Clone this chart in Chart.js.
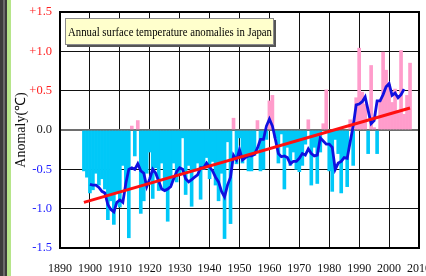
<!DOCTYPE html>
<html><head><meta charset="utf-8">
<script src="https://cdn.jsdelivr.net/npm/chart.js@4.4.0/dist/chart.umd.min.js"></script>
<style>html,body{margin:0;padding:0;background:#fff;overflow:hidden}</style>
</head><body><canvas id="c" width="426" height="276"></canvas>
<script>
const barYears = [1898,1899,1900,1901,1902,1903,1904,1905,1906,1907,1908,1909,1910,1911,1912,1913,1914,1915,1916,1917,1918,1919,1920,1921,1922,1923,1924,1925,1926,1927,1928,1929,1930,1931,1932,1933,1934,1935,1936,1937,1938,1939,1940,1941,1942,1943,1944,1945,1946,1947,1948,1949,1950,1951,1952,1953,1954,1955,1956,1957,1958,1959,1960,1961,1962,1963,1964,1965,1966,1967,1968,1969,1970,1971,1972,1973,1974,1975,1976,1977,1978,1979,1980,1981,1982,1983,1984,1985,1986,1987,1988,1989,1990,1991,1992,1993,1994,1995,1996,1997,1998,1999,2000,2001,2002,2003,2004,2005,2006,2007];
const barValues = [-0.52,-0.60,-0.80,-0.76,-0.55,-0.70,-0.62,-0.75,-1.14,-0.90,-1.20,-0.80,-0.98,-0.45,-0.75,-1.37,0.05,-0.33,0.12,-1.06,-0.90,-0.55,-0.28,-0.87,-0.48,-0.77,-0.42,-0.75,-1.16,-0.70,-0.42,-0.66,-0.55,-0.10,-0.82,-0.45,-0.97,-0.52,-0.42,-0.88,-0.50,-0.35,-0.62,-0.40,-0.70,-0.90,-0.55,-1.38,-0.15,-1.19,0.15,-0.43,-0.10,-0.42,-0.35,-0.52,-0.52,-0.32,0.12,-0.52,-0.50,-0.12,0.37,0.44,-0.10,-0.42,-0.05,-0.75,-0.22,-0.45,-0.28,-0.50,-0.53,-0.45,-0.18,0.13,-0.70,-0.22,-0.68,-0.28,0.08,0.51,-0.52,-0.78,-0.12,-0.30,-0.80,-0.35,-0.72,0.13,-0.45,0.41,1.04,0.48,0.33,-0.30,0.82,0.03,-0.30,0.37,0.99,0.76,0.58,0.35,0.52,0.25,1.01,0.20,0.44,0.85];
const meanYears = [1900,1901,1902,1903,1904,1905,1906,1907,1908,1909,1910,1911,1912,1913,1914,1915,1916,1917,1918,1919,1920,1921,1922,1923,1924,1925,1926,1927,1928,1929,1930,1931,1932,1933,1934,1935,1936,1937,1938,1939,1940,1941,1942,1943,1944,1945,1946,1947,1948,1949,1950,1951,1952,1953,1954,1955,1956,1957,1958,1959,1960,1961,1962,1963,1964,1965,1966,1967,1968,1969,1970,1971,1972,1973,1974,1975,1976,1977,1978,1979,1980,1981,1982,1983,1984,1985,1986,1987,1988,1989,1990,1991,1992,1993,1994,1995,1996,1997,1998,1999,2000,2001,2002,2003,2004,2005];
const meanValues = [-0.69,-0.70,-0.70,-0.73,-0.78,-0.80,-0.95,-1.01,-1.04,-0.92,-0.89,-0.92,-0.68,-0.50,-0.48,-0.50,-0.43,-0.52,-0.55,-0.72,-0.62,-0.50,-0.55,-0.65,-0.75,-0.77,-0.75,-0.72,-0.62,-0.53,-0.48,-0.50,-0.62,-0.66,-0.63,-0.60,-0.57,-0.48,-0.48,-0.42,-0.47,-0.52,-0.60,-0.66,-0.78,-0.85,-0.70,-0.60,-0.32,-0.38,-0.25,-0.38,-0.35,-0.33,-0.33,-0.31,-0.23,-0.12,-0.12,0.05,0.14,0.05,-0.12,-0.30,-0.34,-0.33,-0.35,-0.43,-0.40,-0.40,-0.36,-0.30,-0.32,-0.24,-0.30,-0.33,-0.32,-0.10,-0.14,-0.18,-0.18,-0.22,-0.50,-0.42,-0.40,-0.35,-0.36,-0.15,0.05,0.32,0.33,0.36,0.42,0.25,0.08,0.12,0.37,0.37,0.45,0.55,0.59,0.44,0.47,0.41,0.45,0.52];
const trendYears = [1898, 2007];
const trendValues = [-0.92, 0.28];
const xTickLabels = [1890,1900,1910,1920,1930,1940,1950,1960,1970,1980,1990,2000,2010];
const yTickLabels = [-1.5,-1.0,-0.5,0.0,0.5,1.0,1.5];
const chartTitle = 'Annual surface temperature anomalies in Japan';
const yTitle = 'Anomaly(℃)';

const SERIF = "'Liberation Serif', 'Times New Roman', serif";
const pts = (xs, ys) => xs.map((x, i) => ({x: x, y: ys[i]}));

const deco = {
  id: 'deco',
  beforeDraw(chart) {
    const ctx = chart.ctx;
    ctx.save();
    ctx.fillStyle = '#ffffff';
    ctx.fillRect(0, 0, chart.width, chart.height);
    ctx.fillStyle = '#3c3c3c';
    ctx.fillRect(0, 0, 7, chart.height);
    ctx.fillStyle = '#6a6a6a';
    ctx.fillRect(3, 0, 2, chart.height);
    ctx.fillStyle = '#b6e58a';
    ctx.fillRect(7, 0, 4, chart.height);
    ctx.restore();
  },
  afterDraw(chart) {
    const ctx = chart.ctx;
    const a = chart.chartArea;
    ctx.save();
    // plot frame
    ctx.strokeStyle = '#000';
    ctx.lineWidth = 2;
    ctx.strokeRect(a.left, a.top, a.right - a.left, a.bottom - a.top);
    // title box
    const bx = 65, by = 18, bw = 209, bh = 27;
    ctx.fillStyle = '#555';
    ctx.fillRect(bx + 2, by + 2, bw, bh);
    ctx.fillStyle = '#ffffcc';
    ctx.fillRect(bx, by, bw, bh);
    ctx.strokeStyle = '#8a8a8a';
    ctx.lineWidth = 1;
    ctx.strokeRect(bx + 0.5, by + 0.5, bw - 1, bh - 1);
    ctx.fillStyle = '#000';
    ctx.font = '12.5px ' + SERIF;
    ctx.textBaseline = 'middle';
    ctx.textAlign = 'left';
    ctx.fillText(chartTitle, bx + 3, by + bh / 2 + 1, bw - 5);
    ctx.restore();
  }
};

new Chart(document.getElementById('c'), {
  type: 'bar',
  data: {
    datasets: [
      {
        type: 'line', label: 'trend', order: 0,
        data: pts(trendYears, trendValues),
        borderColor: '#ff1010', borderWidth: 3, pointRadius: 0, fill: false
      },
      {
        type: 'line', label: '5-year mean', order: 1,
        data: pts(meanYears, meanValues),
        borderColor: '#1010e0', borderWidth: 2.8, pointRadius: 0, fill: false, tension: 0
      },
      {
        type: 'bar', label: 'anomaly', order: 2,
        data: pts(barYears, barValues),
        backgroundColor: barValues.map(v => v >= 0 ? '#ff9ccb' : '#00c8f8'),
        borderWidth: 0, barPercentage: 1.0, categoryPercentage: 1.0
      }
    ]
  },
  options: {
    responsive: false,
    animation: false,
    devicePixelRatio: 1,
    layout: { padding: { left: 0, right: 7, top: 12, bottom: 0 } },
    plugins: { legend: { display: false }, tooltip: { enabled: false } },
    scales: {
      x: {
        type: 'linear', min: 1890, max: 2010, offset: false,
        afterBuildTicks: s => { s.ticks = xTickLabels.map(v => ({value: v})); },
        afterFit: s => { s.height = 28; s.paddingLeft = 0; s.paddingRight = 0; },
        ticks: {
          autoSkip: false, maxRotation: 0, minRotation: 0, padding: 14,
          color: '#111', font: { family: SERIF, size: 12 },
          callback: v => String(v)
        },
        grid: { color: '#111', lineWidth: 1, drawTicks: false, offset: false },
        border: { display: false }
      },
      y: {
        min: -1.5, max: 1.5,
        afterBuildTicks: s => { s.ticks = yTickLabels.map(v => ({value: v})); },
        afterFit: s => { s.width = 60; s.paddingTop = 0; s.paddingBottom = 0; },
        ticks: {
          padding: 8,
          font: { family: SERIF, size: 12.5 },
          color: c => c.tick.value > 0 ? '#ff2020' : (c.tick.value < 0 ? '#2020ff' : '#222'),
          callback: v => (v > 0 ? '+' : '') + Number(v).toFixed(1)
        },
        grid: {
          drawTicks: false,
          color: c => c.tick.value === 0 ? '#6e6e6e' : '#111',
          lineWidth: c => c.tick.value === 0 ? 2 : 1
        },
        border: { display: false },
        title: {
          display: true, text: yTitle, color: '#111',
          font: { family: SERIF, size: 14 },
          padding: { top: 13, bottom: 0 }
        }
      }
    }
  },
  plugins: [deco]
});
</script>
</body></html>
